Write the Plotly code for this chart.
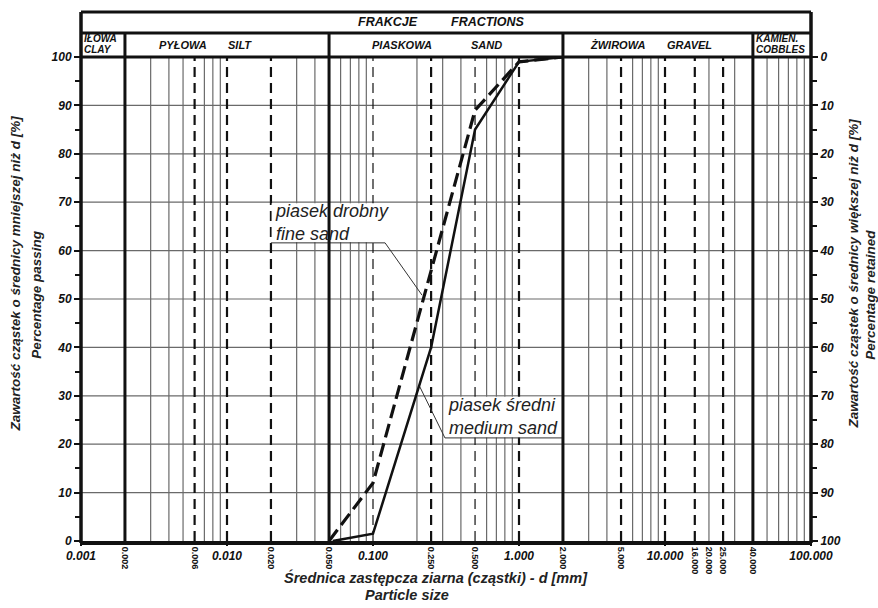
import math
import plotly.graph_objects as go

FONT = "Liberation Sans, Arial, sans-serif"
INK = "#111111"

# ---- axis tick positions and labels (particle diameter, mm) ----
decade_ticks = [0.001, 0.01, 0.1, 1, 10, 100]
decade_labels = ["0.001", "0.010", "0.100", "1.000", "10.000", "100.000"]
fraction_ticks = [0.002, 0.006, 0.02, 0.05, 0.25, 0.5, 2, 5, 16, 20, 25, 40]
fraction_labels = ["0.002", "0.006", "0.020", "0.050", "0.250", "0.500",
                   "2.000", "5.000", "16.000", "20.000", "25.000", "40.000"]
percent_ticks = [0, 10, 20, 30, 40, 50, 60, 70, 80, 90, 100]
percent_labels = ["0", "10", "20", "30", "40", "50", "60", "70", "80", "90", "100"]

# ---- fraction boundaries and subdivision lines ----
fraction_bounds = [0.002, 0.05, 2, 40]
subdiv_bold = [0.006, 0.01, 0.02, 0.25, 1, 5, 10, 16, 25]
subdiv_thin = [0.1, 0.5]

# ---- grain size distribution curves ----
medium_size = [0.053, 0.1, 0.25, 0.5, 1.0, 2.0]
medium_pass = [0, 1.5, 40, 85, 99, 100]
fine_size = [0.05, 0.1, 0.5, 1.0, 2.0]
fine_pass = [0, 12, 89, 99, 100]

# ---- fraction names in the header row ----
header_names = ["PYŁOWA", "SILT", "PIASKOWA", "SAND", "ŻWIROWA", "GRAVEL"]


def bi(size, weight="bold", style="italic", color=INK):
    return dict(family=FONT, size=size, color=color, weight=weight, style=style)


def bold_italic(labels):
    return ["<b><i>%s</i></b>" % s for s in labels]


fig = go.Figure()

fig.add_trace(go.Scatter(
    x=medium_size, y=medium_pass, mode="lines",
    line=dict(color=INK, width=2.5), hoverinfo="skip"))
fig.add_trace(go.Scatter(
    x=fine_size, y=fine_pass, mode="lines",
    line=dict(color=INK, width=3.2, dash="14px,6px"), hoverinfo="skip"))
# empty traces so the secondary (label-only) axes get drawn
fig.add_trace(go.Scatter(x=[], y=[], mode="lines", xaxis="x2", yaxis="y", hoverinfo="skip"))
fig.add_trace(go.Scatter(x=[], y=[], mode="lines", xaxis="x", yaxis="y2", hoverinfo="skip"))

shapes = []

# log-cycle minor grid (gray)
special = {round(v, 6) for v in fraction_bounds + subdiv_bold + subdiv_thin}
for k in range(-3, 2):
    for m in range(2, 10):
        v = round(m * 10.0 ** k, 6)
        if v in special:
            continue
        shapes.append(dict(type="line", xref="x", yref="y", x0=v, x1=v, y0=0, y1=100,
                           line=dict(color="#6a6a6a", width=1.2), layer="below"))

# horizontal percentage grid
for p in percent_ticks[1:-1]:
    shapes.append(dict(type="line", xref="paper", yref="y", x0=0, x1=1, y0=p, y1=p,
                       line=dict(color="#6a6a6a", width=1.2), layer="below"))

# subdivision lines (dashed)
for v in subdiv_bold:
    shapes.append(dict(type="line", xref="x", yref="y", x0=v, x1=v, y0=0, y1=100,
                       line=dict(color=INK, width=2.2, dash="10px,6px"), layer="below"))
for v in subdiv_thin:
    shapes.append(dict(type="line", xref="x", yref="y", x0=v, x1=v, y0=0, y1=100,
                       line=dict(color=INK, width=1.2, dash="10px,6px"), layer="below"))

# white label boxes with leader lines
shapes.append(dict(type="rect", xref="x", yref="y", x0=0.0202, x1=0.135, y0=61.7, y1=69.8,
                   line=dict(width=0), fillcolor="white", layer="below"))
shapes.append(dict(type="rect", xref="x", yref="y", x0=0.311, x1=1.97, y0=21.4, y1=29.8,
                   line=dict(width=0), fillcolor="white", layer="below"))
leader = dict(color="#333333", width=1)
shapes += [
    dict(type="line", xref="x", yref="y", x0=0.02, x1=0.121, y0=61.6, y1=61.6, line=leader, layer="below"),
    dict(type="line", xref="x", yref="y", x0=0.121, x1=0.2166, y0=61.6, y1=50.8, line=leader, layer="below"),
    dict(type="line", xref="x", yref="y", x0=0.311, x1=1.97, y0=21.3, y1=21.3, line=leader, layer="below"),
    dict(type="line", xref="x", yref="y", x0=0.311, x1=0.2066, y0=21.3, y1=32.2, line=leader, layer="below"),
]

# fraction boundaries, running up through the header row
HDR_MID = 1.0496
HDR_TOP = 1.093
for v in fraction_bounds:
    shapes.append(dict(type="line", xref="x", yref="paper", x0=v, x1=v, y0=0, y1=HDR_MID,
                       line=dict(color=INK, width=3), layer="above"))

# frame: axes, top line and header box
frame = dict(color=INK, width=3.5)
shapes += [
    dict(type="line", xref="paper", yref="paper", x0=0, x1=0, y0=-0.004, y1=HDR_TOP, line=frame, layer="above"),
    dict(type="line", xref="paper", yref="paper", x0=1, x1=1, y0=-0.004, y1=HDR_TOP, line=frame, layer="above"),
    dict(type="line", xref="paper", yref="paper", x0=0, x1=1, y0=-0.004, y1=-0.004,
         line=dict(color=INK, width=4), layer="above"),
    dict(type="line", xref="paper", yref="paper", x0=0, x1=1, y0=1, y1=1, line=dict(color=INK, width=3), layer="above"),
    dict(type="line", xref="paper", yref="paper", x0=0, x1=1, y0=HDR_MID, y1=HDR_MID, line=dict(color=INK, width=3), layer="above"),
    dict(type="line", xref="paper", yref="paper", x0=0, x1=1, y0=HDR_TOP, y1=HDR_TOP, line=dict(color=INK, width=3), layer="above"),
]

annotations = []


def note(text, x, y, font, xanchor="center", yanchor="middle", angle=0, align="center", xref="paper", yref="paper"):
    annotations.append(dict(text=text, x=x, y=y, xref=xref, yref=yref, showarrow=False,
                            xanchor=xanchor, yanchor=yanchor, textangle=angle, align=align,
                            font=font))


# header
note("<b><i>FRAKCJE</i></b>", 0.4205, 1.0725, bi(12.5))
note("<b><i>FRACTIONS</i></b>", 0.5575, 1.0725, bi(12.5))
header_x = [0.1397, 0.2178, 0.4397, 0.556, 0.7356, 0.8342]
for name, hx in zip(header_names, header_x):
    note("<b><i>%s</i></b>" % name, hx, 1.0245, bi(11))
note("<b><i>IŁOWA</i></b>", 0.0015, 1.0375, bi(10), xanchor="left")
note("<b><i>CLAY</i></b>", 0.0015, 1.0165, bi(10), xanchor="left")
note("<b><i>KAMIEN.</i></b>", 0.9225, 1.0375, bi(10), xanchor="left")
note("<b><i>COBBLES</i></b>", 0.9225, 1.0165, bi(10), xanchor="left")

# curve labels
label_font = dict(family=FONT, size=18, color="#222222", style="italic")
note("<i>piasek drobny<br>fine sand</i>", math.log10(0.0205), 65.9, label_font,
     xanchor="left", align="left", xref="x", yref="y")
note("<i>piasek średni<br>medium sand</i>", math.log10(0.318), 25.7, label_font,
     xanchor="left", align="left", xref="x", yref="y")

# axis titles
title_font = dict(family=FONT, size=13.5, color="#222222", style="italic", weight="bold")
note("<b><i>Zawartość cząstek o średnicy mniejszej niż d [%]</i></b>", -0.0895, 0.552, title_font, angle=-90)
note("<b><i>Percentage passing</i></b>", -0.061, 0.51, title_font, angle=-90)
note("<b><i>Zawartość cząstek o średnicy większej niż d [%]</i></b>", 1.0585, 0.552, title_font, angle=-90)
note("<b><i>Percentage retained</i></b>", 1.0815, 0.51, title_font, angle=-90)
note("<b><i>Średnica zastępcza ziarna (cząstki) - d [mm]</i></b>", 0.486, -0.0745, dict(title_font, size=14.5))
note("<b><i>Particle size</i></b>", 0.4464, -0.1115, dict(title_font, size=14.5))

tick_common = dict(ticks="outside", tickwidth=2, tickcolor=INK, showgrid=False,
                   zeroline=False, showline=False)
minor_pct = dict(tickvals=[5, 15, 25, 35, 45, 55, 65, 75, 85, 95], ticks="outside",
                 ticklen=5, tickwidth=2, tickcolor=INK, showgrid=False)

fig.update_layout(
    width=878, height=608,
    margin=dict(l=81, r=67, t=57, b=67),
    plot_bgcolor="white", paper_bgcolor="white",
    showlegend=False,
    shapes=shapes,
    annotations=annotations,
    xaxis=dict(type="log", range=[-3, 2], tickvals=decade_ticks, ticktext=bold_italic(decade_labels),
               ticklen=4, tickfont=bi(12), **tick_common),
    xaxis2=dict(type="log", range=[-3, 2], overlaying="x", anchor="y", side="bottom",
                tickvals=fraction_ticks, ticktext=["<b>%s</b>" % s for s in fraction_labels],
                tickangle=90, ticklen=3, tickfont=bi(9, style="normal"), **tick_common),
    yaxis=dict(range=[0, 100], tickvals=percent_ticks, ticktext=bold_italic(percent_labels),
               ticklen=6, tickfont=bi(12), side="left", minor=minor_pct, **tick_common),
    yaxis2=dict(range=[100, 0], overlaying="y", anchor="x", side="right",
                tickvals=percent_ticks, ticktext=bold_italic(percent_labels),
                ticklen=6, tickfont=bi(12), minor=minor_pct, **tick_common),
)

fig.write_html("out.html")
